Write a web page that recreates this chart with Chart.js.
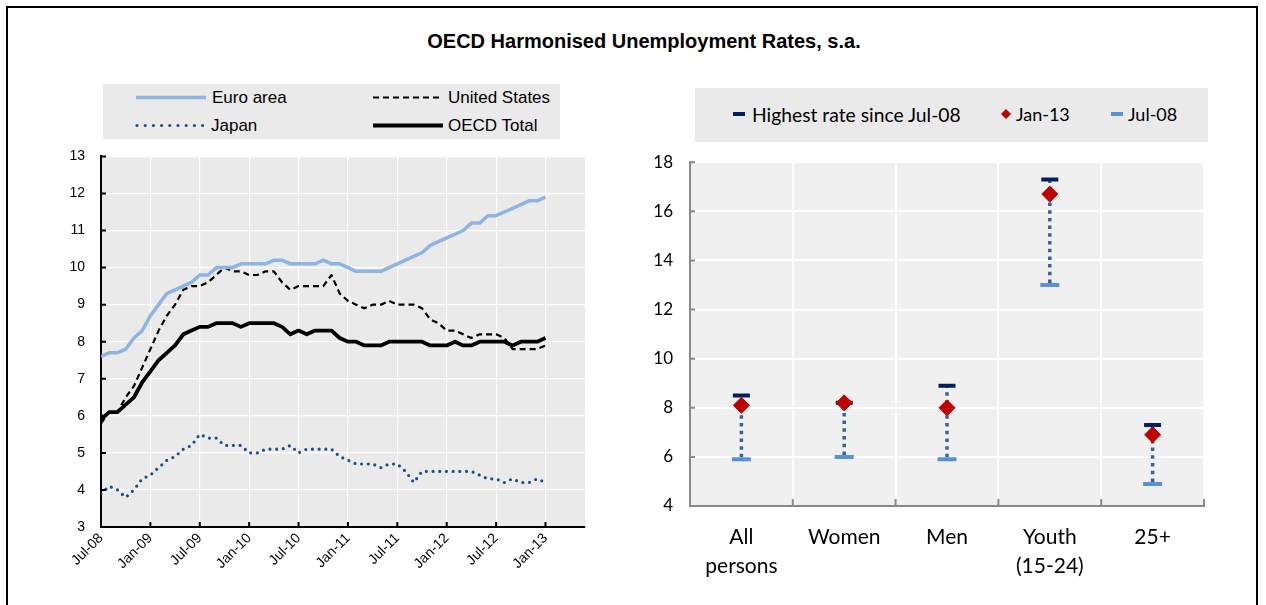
<!DOCTYPE html>
<html>
<head>
<meta charset="utf-8">
<script src="https://cdn.jsdelivr.net/npm/chart.js@4.4.1/dist/chart.umd.min.js"></script>
<style>
  body { margin: 0; background: #fff; width: 1266px; height: 605px; overflow: hidden; position: relative; }
  .frame { position: absolute; left: 6px; top: 6px; width: 1248px; height: 700px; border: 2px solid #000; }
  .title { position: absolute; left: 144px; width: 1000px; top: 30px; text-align: center;
           font: bold 20px "Liberation Sans", Arial, sans-serif; color: #000; }
  .legbox { position: absolute; background: #eaeaea; }
  .leg { position: absolute; line-height: 22px; height: 22px; white-space: nowrap; color: #000; }
  .legL { font: 17px "Liberation Sans", Arial, sans-serif; }
  .legR { font: 18px Lato, "Open Sans", sans-serif; }
  canvas { position: absolute; }
  svg { position: absolute; left: 0; top: 0; }
</style>
</head>
<body>
<div class="frame"></div>
<div class="title">OECD Harmonised Unemployment Rates, s.a.</div>

<div class="legbox" style="left:103px; top:84px; width:457px; height:55px;"></div>
<div class="legbox" style="left:695px; top:88px; width:513px; height:54px;"></div>

<svg width="1266" height="605">
  <!-- left legend samples -->
  <line x1="136" y1="97.5" x2="206" y2="97.5" stroke="#8db4e2" stroke-width="3.5"/>
  <line x1="373" y1="97.5" x2="442" y2="97.5" stroke="#000" stroke-width="2.2" stroke-dasharray="6 4"/>
  <line x1="137" y1="125.5" x2="203" y2="125.5" stroke="#1f4e8c" stroke-width="3.2" stroke-dasharray="0 8.2" stroke-linecap="round"/>
  <line x1="373" y1="125.5" x2="443" y2="125.5" stroke="#000" stroke-width="4"/>
  <!-- right legend samples -->
  <rect x="733" y="112" width="12" height="4" fill="#002060"/>
  <polygon points="1006,109 1011,114 1006,119 1001,114" fill="#c00000"/>
  <rect x="1111" y="112" width="12" height="4" fill="#5592d8"/>
</svg>

<div class="leg legL" style="left:212px; top:88px;">Euro area</div>
<div class="leg legL" style="left:448px; top:88px;">United States</div>
<div class="leg legL" style="left:211px; top:116px;">Japan</div>
<div class="leg legL" style="left:448px; top:116px;">OECD Total</div>

<div class="leg legR" style="left:752px; top:103px; font-size:19.3px;">Highest rate since Jul-08</div>
<div class="leg legR" style="left:1016px; top:103px;">Jan-13</div>
<div class="leg legR" style="left:1128px; top:103px;">Jul-08</div>

<canvas id="leftChart" width="590" height="473" style="left:20px; top:132px;"></canvas>
<canvas id="rightChart" width="620" height="470" style="left:620px; top:135px;"></canvas>

<script>
// Left panel: monthly rates, Jul-08 .. Jan-13 (55 months)
const tickLabels = ["Jul-08", "Jan-09", "Jul-09", "Jan-10", "Jul-10", "Jan-11", "Jul-11", "Jan-12", "Jul-12", "Jan-13"];

const euroArea = [7.6, 7.7, 7.7, 7.8, 8.1, 8.3, 8.7, 9.0, 9.3, 9.4, 9.5, 9.6,
  9.8, 9.8, 10.0, 10.0, 10.0, 10.1, 10.1, 10.1, 10.1, 10.2, 10.2, 10.1,
  10.1, 10.1, 10.1, 10.2, 10.1, 10.1, 10.0, 9.9, 9.9, 9.9, 9.9, 10.0,
  10.1, 10.2, 10.3, 10.4, 10.6, 10.7, 10.8, 10.9, 11.0, 11.2, 11.2, 11.4,
  11.4, 11.5, 11.6, 11.7, 11.8, 11.8, 11.9];

const unitedStates = [5.8, 6.1, 6.1, 6.5, 6.8, 7.3, 7.8, 8.3, 8.7, 9.0, 9.4, 9.5,
  9.5, 9.6, 9.8, 10.0, 9.9, 9.9, 9.8, 9.8, 9.9, 9.9, 9.6, 9.4,
  9.5, 9.5, 9.5, 9.5, 9.8, 9.3, 9.1, 9.0, 8.9, 9.0, 9.0, 9.1,
  9.0, 9.0, 9.0, 8.9, 8.6, 8.5, 8.3, 8.3, 8.2, 8.1, 8.2, 8.2,
  8.2, 8.1, 7.8, 7.8, 7.8, 7.8, 7.9];

const japan = [3.9, 4.1, 4.0, 3.8, 4.0, 4.3, 4.4, 4.6, 4.8, 4.9, 5.1, 5.2,
  5.5, 5.4, 5.4, 5.2, 5.2, 5.2, 5.0, 5.0, 5.1, 5.1, 5.1, 5.2,
  5.0, 5.1, 5.1, 5.1, 5.1, 4.9, 4.8, 4.7, 4.7, 4.7, 4.6, 4.7,
  4.7, 4.5, 4.2, 4.5, 4.5, 4.5, 4.5, 4.5, 4.5, 4.5, 4.4, 4.3,
  4.3, 4.2, 4.3, 4.2, 4.2, 4.3, 4.2];

const oecdTotal = [5.9, 6.1, 6.1, 6.3, 6.5, 6.9, 7.2, 7.5, 7.7, 7.9, 8.2, 8.3,
  8.4, 8.4, 8.5, 8.5, 8.5, 8.4, 8.5, 8.5, 8.5, 8.5, 8.4, 8.2,
  8.3, 8.2, 8.3, 8.3, 8.3, 8.1, 8.0, 8.0, 7.9, 7.9, 7.9, 8.0,
  8.0, 8.0, 8.0, 8.0, 7.9, 7.9, 7.9, 8.0, 7.9, 7.9, 8.0, 8.0,
  8.0, 8.0, 7.9, 8.0, 8.0, 8.0, 8.1];

// Right panel
const groups = [["All", "persons"], "Women", "Men", ["Youth", "(15-24)"], "25+"];
const highestSince = [8.5, 8.2, 8.9, 17.3, 7.3];
const jan13 = [8.1, 8.2, 8.0, 16.7, 6.9];
const jul08 = [5.9, 6.0, 5.9, 13.0, 4.9];

const leftFont = { family: "'Liberation Sans', Arial, sans-serif", size: 14 };
const rightFont = { family: "Lato, 'Open Sans', sans-serif", size: 17 };

// month index -> point
const toPoints = (arr) => arr.map((v, i) => ({ x: i, y: v }));
const tickMonths = tickLabels.map((l, i) => i * 6);

// fills the plot area
const plotBg = {
  id: "plotBg",
  beforeDraw(chart, args, opts) {
    const { ctx, chartArea: a } = chart;
    ctx.save();
    ctx.fillStyle = opts.color;
    ctx.fillRect(a.left, a.top, a.width, a.height);
    ctx.restore();
  },
};

// short tick marks pointing into the plot
const innerTicks = {
  id: "innerTicks",
  afterDraw(chart, args, opts) {
    const { ctx, chartArea: a, scales } = chart;
    ctx.save();
    ctx.strokeStyle = opts.color;
    ctx.lineWidth = opts.width;
    ctx.beginPath();
    scales.y.ticks.forEach((t, i) => {
      const p = scales.y.getPixelForTick(i);
      ctx.moveTo(a.left, p);
      ctx.lineTo(a.left + opts.yLen, p);
    });
    if (opts.boundaries) {
      const n = scales.x.ticks.length;
      for (let i = 0; i <= n; i++) {
        const p = a.left + (a.width * i) / n;
        ctx.moveTo(p, a.bottom);
        ctx.lineTo(p, a.bottom - opts.xLen);
      }
    } else {
      scales.x.ticks.forEach((t, i) => {
        const p = scales.x.getPixelForTick(i);
        ctx.moveTo(p, a.bottom);
        ctx.lineTo(p, a.bottom - opts.xLen);
      });
    }
    ctx.stroke();
    ctx.restore();
  },
};

// dotted high-low line between Jul-08 and the highest rate
const hiLoLines = {
  id: "hiLoLines",
  beforeDatasetsDraw(chart) {
    const { ctx, scales: { x, y } } = chart;
    ctx.save();
    ctx.strokeStyle = "#3a619c";
    ctx.lineWidth = 3.5;
    ctx.setLineDash([3.5, 4.2]);
    groups.forEach((g, i) => {
      const px = x.getPixelForValue(i);
      ctx.beginPath();
      ctx.moveTo(px, y.getPixelForValue(jul08[i]) - 2);
      ctx.lineTo(px, y.getPixelForValue(highestSince[i]));
      ctx.stroke();
    });
    ctx.restore();
  },
};

function initializeLeftChart() {
  const ctx = document.getElementById("leftChart").getContext("2d");
  new Chart(ctx, {
    type: "line",
    data: {
      datasets: [
        { label: "Euro area", data: toPoints(euroArea), borderColor: "#8db4e2", borderWidth: 3.5 },
        { label: "United States", data: toPoints(unitedStates), borderColor: "#000", borderWidth: 2.2, borderDash: [6, 4] },
        { label: "Japan", data: toPoints(japan), borderColor: "#1f4e8c", borderWidth: 3.2,
          borderDash: [0, 6.7], borderCapStyle: "round" },
        { label: "OECD Total", data: toPoints(oecdTotal), borderColor: "#000", borderWidth: 3.8 },
      ],
    },
    options: {
      responsive: false,
      animation: false,
      events: [],
      elements: { point: { radius: 0 }, line: { tension: 0, borderJoinStyle: "round" } },
      layout: { padding: { top: 10, right: 25, left: 0, bottom: 0 } },
      plugins: {
        legend: { display: false },
        tooltip: { enabled: false },
        plotBg: { color: "#eaeaea" },
        innerTicks: { color: "#000", width: 2, yLen: 5, xLen: 5 },
      },
      scales: {
        x: {
          type: "linear",
          min: 0,
          max: 58.8,
          afterBuildTicks: (s) => { s.ticks = tickMonths.map((v) => ({ value: v })); },
          afterFit: (s) => { s.height = 78; },
          ticks: {
            callback: (v) => tickLabels[tickMonths.indexOf(v)],
            minRotation: 45,
            maxRotation: 45,
            autoSkip: false,
            font: leftFont,
            color: "#000",
            padding: 3,
          },
          grid: { color: "#fff", lineWidth: 1.2, drawTicks: false },
          border: { color: "#000", width: 2 },
        },
        y: {
          min: 3,
          max: 13,
          afterFit: (s) => { s.width = 81; },
          ticks: { stepSize: 1, font: leftFont, color: "#000", padding: 16 },
          grid: { color: "#fff", lineWidth: 1.2, drawTicks: false },
          border: { color: "#000", width: 2 },
        },
      },
    },
    plugins: [plotBg, innerTicks],
  });
}

function initializeRightChart() {
  const ctx = document.getElementById("rightChart").getContext("2d");
  new Chart(ctx, {
    type: "line",
    data: {
      labels: groups,
      datasets: [
        { label: "Jan-13", data: jan13, showLine: false, pointStyle: "rectRot", pointRadius: 8,
          backgroundColor: "#c00000", borderColor: "#c00000", borderWidth: 1 },
        { label: "Highest rate since Jul-08", data: highestSince, showLine: false, pointStyle: "line",
          pointRadius: 8.5, borderColor: "#002060", pointBorderWidth: 4 },
        { label: "Jul-08", data: jul08, showLine: false, pointStyle: "line",
          pointRadius: 9.5, borderColor: "#5592d8", pointBorderWidth: 4 },
      ],
    },
    options: {
      responsive: false,
      animation: false,
      events: [],
      layout: { padding: { top: 12, right: 36, left: 0, bottom: 0 } },
      plugins: {
        legend: { display: false },
        tooltip: { enabled: false },
        plotBg: { color: "#f0f0f0" },
        innerTicks: { color: "#898989", width: 2, yLen: 5, xLen: 7, boundaries: true },
      },
      scales: {
        x: {
          offset: true,
          afterFit: (s) => { s.height = 99; },
          ticks: { font: { family: rightFont.family, size: 21, lineHeight: 1.38 }, color: "#000", padding: 17 },
          grid: { color: "#fff", lineWidth: 2, offset: true, drawTicks: false },
          border: { color: "#898989", width: 2 },
        },
        y: {
          min: 4,
          max: 18,
          afterFit: (s) => { s.width = 70; },
          ticks: { stepSize: 2, font: rightFont, color: "#000", padding: 17 },
          grid: { color: "#fff", lineWidth: 2, drawTicks: false },
          border: { color: "#898989", width: 2 },
        },
      },
    },
    plugins: [plotBg, innerTicks, hiLoLines],
  });
}

window.onload = function () {
  initializeLeftChart();
  initializeRightChart();
};
</script>
</body>
</html>
